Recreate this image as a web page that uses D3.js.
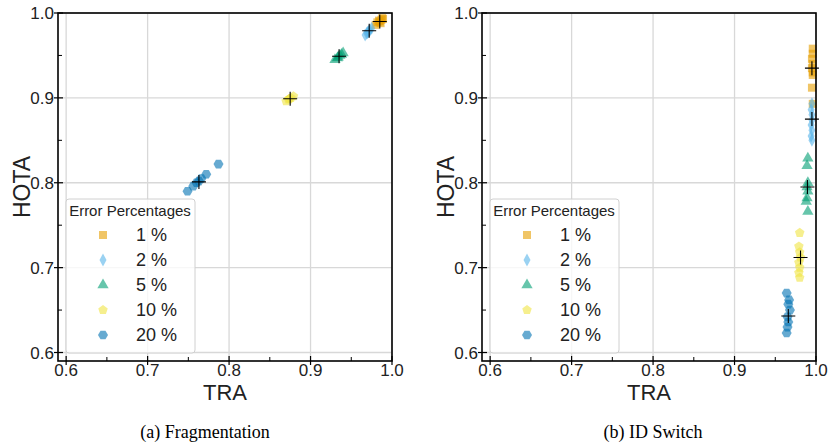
<!DOCTYPE html>
<html>
<head>
<meta charset="utf-8">
<script src="https://cdn.jsdelivr.net/npm/d3@7"></script>
<style>
  body { margin: 0; background: #fff; }
  text { font-family: "Liberation Sans", Arial, sans-serif; fill: #222; }
  .caption { font-family: "Liberation Serif", "Times New Roman", serif; fill: #000; }
</style>
</head>
<body>
<div id="graph" style="width:829px;height:447px"></div>
<script>
// legend labels / series
const series_names = ["1 %", "2 %", "5 %", "10 %", "20 %"];
const series_colors = ["#E69F00", "#56B4E9", "#009E73", "#F0E442", "#0072B2"];
const tick_values = [0.6, 0.7, 0.8, 0.9, 1.0];
const minor_ticks = [0.65, 0.75, 0.85, 0.95];

// (a) Fragmentation: [TRA, HOTA]
const frag_1 = [[0.980,0.986],[0.982,0.989],[0.985,0.990],[0.987,0.992],[0.988,0.994],[0.984,0.991],[0.986,0.988],[0.989,0.993]];
const frag_2 = [[0.967,0.974],[0.969,0.976],[0.971,0.978],[0.973,0.980],[0.975,0.982],[0.972,0.979],[0.970,0.977]];
const frag_5 = [[0.930,0.945],[0.933,0.947],[0.936,0.950],[0.940,0.953],[0.938,0.951],[0.934,0.948]];
const frag_10 = [[0.870,0.896],[0.873,0.898],[0.876,0.900],[0.879,0.902],[0.874,0.899]];
const frag_20 = [[0.749,0.790],[0.756,0.796],[0.760,0.800],[0.763,0.802],[0.766,0.805],[0.772,0.810],[0.787,0.822]];
const frag_means = [[0.985,0.990],[0.972,0.979],[0.935,0.949],[0.875,0.899],[0.763,0.801]];

// (b) ID Switch
const idsw_1 = [[0.996,0.958],[0.996,0.952],[0.995,0.946],[0.996,0.940],[0.995,0.935],[0.996,0.930],[0.996,0.927],[0.995,0.912],[0.996,0.893]];
const idsw_2 = [[0.995,0.893],[0.994,0.886],[0.995,0.880],[0.995,0.874],[0.994,0.868],[0.995,0.862],[0.994,0.855],[0.995,0.850]];
const idsw_5 = [[0.990,0.829],[0.989,0.820],[0.990,0.800],[0.989,0.795],[0.990,0.790],[0.989,0.782],[0.988,0.778],[0.990,0.766]];
const idsw_10 = [[0.980,0.741],[0.979,0.725],[0.980,0.718],[0.981,0.712],[0.979,0.706],[0.980,0.700],[0.979,0.694],[0.980,0.688]];
const idsw_20 = [[0.964,0.670],[0.967,0.662],[0.966,0.657],[0.968,0.650],[0.965,0.642],[0.966,0.636],[0.965,0.630],[0.964,0.623]];
const idsw_means = [[0.995,0.935],[0.995,0.875],[0.9895,0.795],[0.981,0.712],[0.966,0.643]];

const domain = [0.59, 1.0];

function marker_path(k) {
  // square, thin diamond, triangle, pentagon, hexagon
  if (k === 0) return "M-4,-4L4,-4L4,4L-4,4Z";
  if (k === 1) return "M0,-6.5L3.5,0L0,6.5L-3.5,0Z";
  if (k === 2) return d3.symbol().type(d3.symbolTriangle).size(55)();
  let n = k === 3 ? 5 : 6, r = 5, pts = [];
  for (let i = 0; i < n; i++) {
    let a = (k === 3 ? -Math.PI/2 : 0) + i * 2 * Math.PI / n;
    pts.push([r*Math.cos(a), r*Math.sin(a)]);
  }
  return "M" + pts.map(p => p.join(",")).join("L") + "Z";
}

const svg = d3.select('#graph').append('svg')
  .attr('width', 829).attr('height', 447);

function draw_panel(x0, series, means, caption, cap_x) {
  const x1 = x0 + 334, y0 = 13, y1 = 361;
  const x = d3.scaleLinear().domain(domain).range([x0, x1]);
  const y = d3.scaleLinear().domain(domain).range([y1, y0]);
  const g = svg.append('g');

  // grid
  g.selectAll('.gx').data(tick_values).enter().append('line')
    .attr('x1', d => x(d)).attr('x2', d => x(d)).attr('y1', y0).attr('y2', y1)
    .attr('stroke', '#d8d8d8').attr('stroke-width', 1.3);
  g.selectAll('.gy').data(tick_values).enter().append('line')
    .attr('y1', d => y(d)).attr('y2', d => y(d)).attr('x1', x0).attr('x2', x1)
    .attr('stroke', '#d8d8d8').attr('stroke-width', 1.3);

  // points
  series.forEach((pts, k) => {
    g.selectAll(null).data(pts).enter().append('path')
      .attr('d', marker_path(k))
      .attr('transform', d => `translate(${x(d[0])},${y(d[1])})`)
      .attr('fill', series_colors[k]).attr('fill-opacity', 0.6);
  });
  // means
  g.selectAll(null).data(means).enter().append('path')
    .attr('d', 'M-7,0L7,0M0,-7L0,7')
    .attr('transform', d => `translate(${x(d[0])},${y(d[1])})`)
    .attr('stroke', '#000').attr('stroke-width', 1.1);

  // frame
  g.append('rect').attr('x', x0).attr('y', y0).attr('width', x1 - x0).attr('height', y1 - y0)
    .attr('fill', 'none').attr('stroke', '#000').attr('stroke-width', 1.6);

  // ticks
  tick_values.forEach(v => {
    g.append('line').attr('x1', x(v)).attr('x2', x(v)).attr('y1', y1 - 5).attr('y2', y1 + 4)
      .attr('stroke', '#000').attr('stroke-width', 1.2);
    g.append('line').attr('y1', y(v)).attr('y2', y(v)).attr('x1', x0 - 4).attr('x2', x0 + 5)
      .attr('stroke', '#000').attr('stroke-width', 1.2);
    g.append('text').attr('x', x(v)).attr('y', y1 + 15).attr('text-anchor', 'middle')
      .attr('font-size', 17).text(v.toFixed(1));
    g.append('text').attr('x', x0 - 4).attr('y', y(v) + 6).attr('text-anchor', 'end')
      .attr('font-size', 17).text(v.toFixed(1));
  });
  minor_ticks.forEach(v => {
    g.append('line').attr('x1', x(v)).attr('x2', x(v)).attr('y1', y1 - 4).attr('y2', y1)
      .attr('stroke', '#000').attr('stroke-width', 1);
    g.append('line').attr('y1', y(v)).attr('y2', y(v)).attr('x1', x0).attr('x2', x0 + 4)
      .attr('stroke', '#000').attr('stroke-width', 1);
  });

  // axis labels
  g.append('text').attr('x', (x0 + x1) / 2).attr('y', 400).attr('text-anchor', 'middle')
    .attr('font-size', 22).text('TRA');
  g.append('text').attr('transform', `translate(${x0 - 28},${(y0 + y1) / 2}) rotate(-90)`)
    .attr('text-anchor', 'middle').attr('font-size', 23).text('HOTA');

  // legend
  const lx = x0 + 8, ly = 199;
  g.append('rect').attr('x', lx).attr('y', ly).attr('width', 129).attr('height', 154)
    .attr('rx', 3).attr('fill', '#fff').attr('fill-opacity', 0.8)
    .attr('stroke', '#d0d0d0').attr('stroke-width', 1);
  g.append('text').attr('x', lx + 64).attr('y', ly + 17).attr('text-anchor', 'middle')
    .attr('font-size', 15).text('Error Percentages');
  series_names.forEach((name, k) => {
    const cy = ly + 36 + k * 25;
    g.append('path').attr('d', marker_path(k)).attr('transform', `translate(${lx + 37},${cy})`)
      .attr('fill', series_colors[k]).attr('fill-opacity', 0.6);
    g.append('text').attr('x', lx + 70).attr('y', cy + 6).attr('font-size', 18).text(name);
  });

  svg.append('text').attr('class', 'caption').attr('x', cap_x).attr('y', 438)
    .attr('text-anchor', 'middle').attr('font-size', 18).text(caption);
}

draw_panel(58, [frag_1, frag_2, frag_5, frag_10, frag_20], frag_means, '(a) Fragmentation', 205);
draw_panel(482, [idsw_1, idsw_2, idsw_5, idsw_10, idsw_20], idsw_means, '(b) ID Switch', 653);
</script>
</body>
</html>
